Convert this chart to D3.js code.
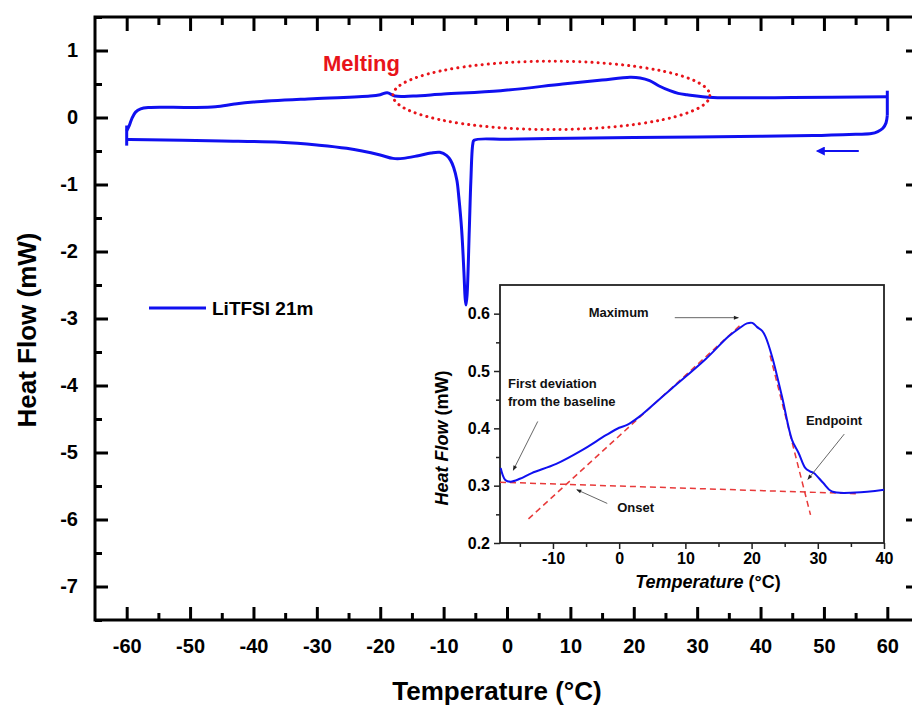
<!DOCTYPE html>
<html>
<head>
<meta charset="utf-8">
<script src="https://cdn.jsdelivr.net/npm/d3@7"></script>
<style>
  body { margin: 0; background: #fff; }
  svg { display: block; font-family: "Liberation Sans", Arial, sans-serif; }
  .tick text { font-weight: bold; fill: #000; }
</style>
</head>
<body>
<svg id="chart"></svg>
<script>
// DATA
// main DSC loop, cooling run (60 -> -60 °C)
var coolT  = [60, 59.8, 59.3, 58.5, 57.5, 55, 48.3, 40, 30, 20, 10, 0, -5.2, -5.4, -5.7, -5.95, -6.3, -6.47, -6.6, -6.8, -7.15, -7.6, -7.9, -8.4, -8.9, -9.5, -10.6, -12, -14, -16.4, -18, -20, -25.3, -30, -35.8, -45, -59.5, -60];
var coolHF = [0.03, -0.08, -0.16, -0.21, -0.24, -0.25, -0.27, -0.28, -0.29, -0.30, -0.31, -0.325, -0.34, -0.4, -0.94, -1.68, -2.65, -2.8, -2.7, -2.3, -1.68, -1.19, -0.94, -0.75, -0.64, -0.57, -0.52, -0.53, -0.57, -0.61, -0.61, -0.56, -0.46, -0.41, -0.37, -0.35, -0.33, -0.33];
// heating run (-60 -> 60 °C)
var heatT  = [-60, -59.6, -59.2, -58.6, -57.8, -56.5, -50, -46, -43, -40, -30.6, -21.6, -20, -18.9, -17.7, -14.8, -10, -1, 8.8, 15, 19.4, 21, 22.5, 24, 25.7, 27, 28.4, 32.5, 45, 60];
var heatHF = [-0.2, -0.12, -0.02, 0.08, 0.13, 0.15, 0.15, 0.16, 0.2, 0.23, 0.28, 0.32, 0.34, 0.37, 0.32, 0.32, 0.35, 0.40, 0.50, 0.56, 0.60, 0.59, 0.55, 0.47, 0.40, 0.36, 0.34, 0.30, 0.30, 0.31];
// vertical segments at the ends of the loop
var endT    = [-60, 60];
var endLow  = [-0.42, 0.03];
var endHigh = [-0.12, 0.40];

var xTicks = [-60, -50, -40, -30, -20, -10, 0, 10, 20, 30, 40, 50, 60];
var yTicks = [-7, -6, -5, -4, -3, -2, -1, 0, 1];

// melting ellipse (centre, half widths in data units)
var meltCenter = [7.0, 0.33];
var meltRadius = [25, 0.51];
var coolArrowT  = [55.5, 49];
var coolArrowHF = [-0.5, -0.5];

// inset: zoom on the melting peak
var insetT  = [-17.9, -17.2, -16.4, -15, -13.2, -9.5, -5.6, -2, 0, 1.2, 3, 6.0, 8.0, 13.0, 16.5, 18.2, 19.3, 20.1, 20.8, 21.6, 22.1, 23.1, 24.6, 26.1, 27.1, 28.1, 28.8, 29.4, 30.8, 32.1, 35.7, 40];
var insetHF = [0.331, 0.31, 0.307, 0.312, 0.322, 0.338, 0.362, 0.388, 0.401, 0.406, 0.42, 0.45, 0.47, 0.52, 0.56, 0.575, 0.583, 0.584, 0.577, 0.57, 0.56, 0.525, 0.455, 0.38, 0.357, 0.331, 0.325, 0.322, 0.305, 0.29, 0.288, 0.293];
var baseLineT  = [-18, 35.9];
var baseLineHF = [0.306, 0.286];
var riseLineT  = [-13.7, 18.3];
var riseLineHF = [0.242, 0.58];
var fallLineT  = [22.8, 28.9];
var fallLineHF = [0.527, 0.249];

var insetXTicks = [-10, 0, 10, 20, 30, 40];
var insetYTicks = [0.2, 0.3, 0.4, 0.5, 0.6];

// annotations: text, text position, arrow from, arrow to (inset data units)
var notes = [
  {lines: ["Maximum"], at: [-4.6, 0.595], from: [8.4, 0.593], to: [18.0, 0.593]},
  {lines: ["First deviation", "from the baseline"], at: [-16.8, 0.47], from: [-12.3, 0.412], to: [-16.0, 0.327]},
  {lines: ["Onset"], at: [-0.3, 0.254], from: [-1.8, 0.269], to: [-6.4, 0.293]},
  {lines: ["Endpoint"], at: [28.2, 0.405], from: [34.0, 0.39], to: [28.5, 0.311]}
];

// SETUP
var width = 912, height = 707;
var svg = d3.select("#chart").attr("width", width).attr("height", height);

var blue = "#1010f0";
var red = "#e8141a";
var plain = function(d) { return String(d); };   // hyphen minus, like the original

var x = d3.scaleLinear().domain([-65, 65]).range([95, 919]);
var y = d3.scaleLinear().domain([-7.5, 1.5]).range([620, 17]);

var defs = svg.append("defs");
defs.append("marker").attr("id", "blueHead")
  .attr("viewBox", "0 0 10 10").attr("refX", 8).attr("refY", 5)
  .attr("markerWidth", 6.5).attr("markerHeight", 4.5).attr("orient", "auto")
  .attr("markerUnits", "strokeWidth")
  .append("path").attr("d", "M0,0L10,5L0,10z").attr("fill", blue);
defs.append("marker").attr("id", "greyHead")
  .attr("viewBox", "0 0 10 10").attr("refX", 9).attr("refY", 5)
  .attr("markerWidth", 7).attr("markerHeight", 5).attr("orient", "auto")
  .attr("markerUnits", "userSpaceOnUse")
  .append("path").attr("d", "M0,1L10,5L0,9z").attr("fill", "#222");

// AXES (ticks inward on all four sides)
function minorOf(scale, step) {
  var d = scale.domain(), out = [];
  for (var v = Math.ceil(d[0] / step) * step; v <= d[1]; v += step) out.push(+v.toFixed(3));
  return out;
}
var xMinor = minorOf(x, 5).filter(function(v) { return v >= -60 && v <= 60 && v % 10 !== 0; });
var yMinor = minorOf(y, 0.5).filter(function(v) { return Math.abs(v % 1) === 0.5; });

function drawAxis(axisFn, scale, ticks, size, fmt, transform, fontSize, pad) {
  var g = svg.append("g").attr("transform", transform)
    .call(axisFn(scale).tickValues(ticks).tickSize(size).tickPadding(pad || 8).tickFormat(fmt));
  g.select(".domain").remove();
  g.selectAll(".tick line").attr("stroke", "#000").attr("stroke-width", 3);
  g.selectAll(".tick text").style("font-size", fontSize + "px");
  return g;
}

var xb = drawAxis(d3.axisBottom, x, xTicks, -13, plain, "translate(0,620)", 20, 12);
xb.selectAll(".tick text").attr("dy", "1.05em");
drawAxis(d3.axisBottom, x, xMinor, -7, "", "translate(0,620)", 1);
drawAxis(d3.axisTop, x, xTicks, -14, "", "translate(0,17)", 1);
drawAxis(d3.axisTop, x, xMinor, -8, "", "translate(0,17)", 1);
drawAxis(d3.axisLeft, y, yTicks, -13, plain, "translate(95,0)", 20, 17);
drawAxis(d3.axisLeft, y, yMinor, -7, "", "translate(95,0)", 1);
drawAxis(d3.axisRight, y, yTicks, -13, "", "translate(919,0)", 1);
drawAxis(d3.axisRight, y, yMinor, -7, "", "translate(919,0)", 1);

svg.append("rect")
  .attr("x", 95).attr("y", 17).attr("width", 919 - 95).attr("height", 620 - 17)
  .attr("fill", "none").attr("stroke", "#000").attr("stroke-width", 3);

svg.append("text")
  .attr("x", 497).attr("y", 700)
  .attr("text-anchor", "middle")
  .style("font-size", "26px").style("font-weight", "bold")
  .text("Temperature (°C)");

svg.append("text")
  .attr("transform", "translate(36,330) rotate(-90)")
  .attr("text-anchor", "middle")
  .style("font-size", "26px").style("font-weight", "bold")
  .text("Heat Flow (mW)");

// MAIN CURVES
var line = d3.line().curve(d3.curveCatmullRom.alpha(0.5));

svg.append("path")
  .attr("d", line(coolT.map(function(t, i) { return [x(t), y(coolHF[i])]; })))
  .attr("fill", "none").attr("stroke", blue).attr("stroke-width", 3)
  .attr("stroke-linejoin", "round");

svg.append("path")
  .attr("d", line(heatT.map(function(t, i) { return [x(t), y(heatHF[i])]; })))
  .attr("fill", "none").attr("stroke", blue).attr("stroke-width", 3)
  .attr("stroke-linejoin", "round");

svg.selectAll(".endTick")
  .data(endT)
  .enter().append("line")
  .attr("class", "endTick")
  .attr("x1", function(d) { return x(d); }).attr("x2", function(d) { return x(d); })
  .attr("y1", function(d, i) { return y(endLow[i]); })
  .attr("y2", function(d, i) { return y(endHigh[i]); })
  .attr("stroke", blue).attr("stroke-width", 3);

// melting ellipse
svg.append("ellipse")
  .attr("cx", x(meltCenter[0])).attr("cy", y(meltCenter[1]))
  .attr("rx", x(meltCenter[0] + meltRadius[0]) - x(meltCenter[0]))
  .attr("ry", y(meltCenter[1] - meltRadius[1]) - y(meltCenter[1]))
  .attr("fill", "none").attr("stroke", red).attr("stroke-width", 3)
  .attr("stroke-linecap", "round").attr("stroke-dasharray", "0.1,6");

svg.append("text")
  .attr("x", 323).attr("y", 71)
  .style("font-size", "22px").style("font-weight", "bold").attr("fill", red)
  .text("Melting");

// cooling direction arrow
svg.append("line")
  .attr("x1", x(coolArrowT[0])).attr("y1", y(coolArrowHF[0]))
  .attr("x2", x(coolArrowT[1])).attr("y2", y(coolArrowHF[1]))
  .attr("stroke", blue).attr("stroke-width", 2)
  .attr("marker-end", "url(#blueHead)");

// legend
svg.append("line")
  .attr("x1", 149).attr("x2", 206).attr("y1", 308).attr("y2", 308)
  .attr("stroke", blue).attr("stroke-width", 3);
svg.append("text")
  .attr("x", 212).attr("y", 315)
  .style("font-size", "19px").style("font-weight", "bold")
  .text("LiTFSI 21m");

// INSET
var ix = d3.scaleLinear().domain([-18, 40]).range([500, 884]);
var iy = d3.scaleLinear().domain([0.2, 0.65]).range([543, 285]);
var inset = svg.append("g");

inset.append("rect")
  .attr("x", 500).attr("y", 285).attr("width", 384).attr("height", 258)
  .attr("fill", "#fff").attr("stroke", "#222").attr("stroke-width", 1.8);

function insetAxis(axisFn, scale, ticks, size, fmt, transform) {
  var g = inset.append("g").attr("transform", transform)
    .call(axisFn(scale).tickValues(ticks).tickSize(size).tickPadding(4).tickFormat(fmt));
  g.select(".domain").remove();
  g.selectAll(".tick line").attr("stroke", "#222").attr("stroke-width", 1.5);
  g.selectAll(".tick text").style("font-size", "16px");
  return g;
}
insetAxis(d3.axisBottom, ix, insetXTicks, 6, plain, "translate(0,543)");
insetAxis(d3.axisBottom, ix, [-15, -5, 5, 15, 25, 35], 4, "", "translate(0,543)");
insetAxis(d3.axisLeft, iy, insetYTicks, 6, d3.format(".1f"), "translate(500,0)");
insetAxis(d3.axisLeft, iy, [0.25, 0.35, 0.45, 0.55], 4, "", "translate(500,0)");

var xt = inset.append("text")
  .attr("x", 708).attr("y", 588)
  .attr("text-anchor", "middle")
  .style("font-size", "18px").style("font-weight", "bold");
xt.append("tspan").style("font-style", "italic").text("Temperature");
xt.append("tspan").text(" (°C)");

var yt = inset.append("text")
  .attr("transform", "translate(448,438) rotate(-90)")
  .attr("text-anchor", "middle")
  .style("font-size", "18px").style("font-weight", "bold");
yt.append("tspan").style("font-style", "italic").text("Heat Flow");
yt.append("tspan").text(" (mW)");

var dashLines = [[baseLineT, baseLineHF], [riseLineT, riseLineHF], [fallLineT, fallLineHF]];
inset.selectAll(".tangent")
  .data(dashLines)
  .enter().append("line")
  .attr("class", "tangent")
  .attr("x1", function(d) { return ix(d[0][0]); }).attr("y1", function(d) { return iy(d[1][0]); })
  .attr("x2", function(d) { return ix(d[0][1]); }).attr("y2", function(d) { return iy(d[1][1]); })
  .attr("stroke", "#e83a3a").attr("stroke-width", 1.5).attr("stroke-dasharray", "6,4");

inset.append("path")
  .attr("d", d3.line().curve(d3.curveCatmullRom.alpha(0.5))(insetT.map(function(t, i) { return [ix(t), iy(insetHF[i])]; })))
  .attr("fill", "none").attr("stroke", blue).attr("stroke-width", 2);

notes.forEach(function(n) {
  var t = inset.append("text")
    .attr("x", ix(n.at[0])).attr("y", iy(n.at[1]))
    .style("font-size", "13px").style("font-weight", "bold").attr("fill", "#111");
  n.lines.forEach(function(s, i) {
    t.append("tspan").attr("x", ix(n.at[0])).attr("dy", i ? "1.35em" : 0).text(s);
  });
  inset.append("line")
    .attr("x1", ix(n.from[0])).attr("y1", iy(n.from[1]))
    .attr("x2", ix(n.to[0])).attr("y2", iy(n.to[1]))
    .attr("stroke", "#555").attr("stroke-width", 0.9)
    .attr("marker-end", "url(#greyHead)");
});
</script>
</body>
</html>
